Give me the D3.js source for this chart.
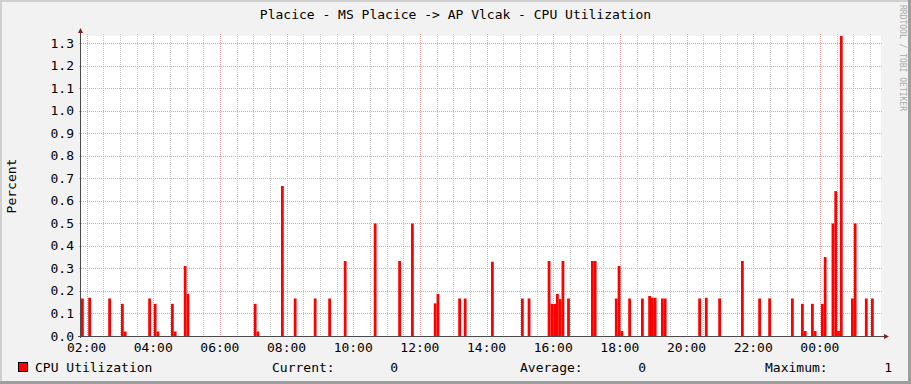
<!DOCTYPE html>
<html>
<head>
<meta charset="utf-8">
<script src="https://cdn.jsdelivr.net/npm/d3@7"></script>
<style>
  body { margin: 0; background: #f2f2f2; }
  text { font-family: "DejaVu Sans Mono", monospace; }
</style>
</head>
<body>
<div id="chart"></div>
<script>
// sample start times (HH:MM, after 01:50 wraps to next day) and CPU values
const sampleTimes = [
  "01:50", "02:03", "02:39", "03:02", "03:07", "03:51", "04:01", "04:06", "04:32", "04:37",
  "04:55", "05:00", "07:01", "07:06", "07:50", "08:13", "08:49", "09:15", "09:43", "10:37",
  "11:21", "11:44", "12:25", "12:30", "13:09", "13:19", "14:08", "15:02", "15:14", "15:50",
  "15:55", "16:00", "16:05", "16:10", "16:15", "16:25", "17:08", "17:13", "17:51", "17:56",
  "18:01", "18:15", "18:38", "18:51", "18:56", "19:01", "19:14", "19:19", "20:21", "20:33",
  "20:57", "21:38", "22:09", "22:27", "23:08", "23:26", "23:31", "23:44", "23:49", "00:02",
  "00:07", "00:21", "00:26", "00:31", "00:36", "00:56", "01:01", "01:21", "01:32"
];
const sampleValues = [
  0.1667, 0.17, 0.1667, 0.1429, 0.02, 0.1667, 0.1429, 0.02, 0.1429, 0.02,
  0.311, 0.187, 0.1429, 0.02, 0.6667, 0.1667, 0.1667, 0.1667, 0.3333, 0.5,
  0.3333, 0.5, 0.145, 0.187, 0.1667, 0.1667, 0.33, 0.1667, 0.1667, 0.3333,
  0.1429, 0.1429, 0.187, 0.164, 0.3333, 0.1667, 0.3333, 0.3333, 0.1667, 0.311,
  0.022, 0.1667, 0.1667, 0.178, 0.17, 0.17, 0.1667, 0.1667, 0.1667, 0.17,
  0.1667, 0.3333, 0.1667, 0.1667, 0.1667, 0.1429, 0.022, 0.1429, 0.022, 0.1429,
  0.351, 0.5, 0.644, 0.022, 1.3333, 0.1667, 0.5, 0.1667, 0.1667
];
const yTicks = [0, 0.1, 0.2, 0.3, 0.4, 0.5, 0.6, 0.7, 0.8, 0.9, 1.0, 1.1, 1.2, 1.3];
const legendItems = [
  { label: "Current:", value: "0" },
  { label: "Average:", value: "0" },
  { label: "Maximum:", value: "1" }
];

const W = 911, H = 384;
const pLeft = 81, pTop = 36, plotW = 800, plotH = 300;
const stepMin = 5;

const start = new Date(2000, 0, 1, 1, 50), end = new Date(2000, 0, 2, 1, 50);
const toDate = s => {
  const [h, m] = s.split(":").map(Number);
  const d = new Date(2000, 0, 1, h, m);
  if (d < start) d.setDate(2);
  return d;
};
const data = sampleTimes.map((t, i) => ({ t: toDate(t), v: sampleValues[i] }));

const x = d3.scaleTime().domain([start, end]).range([pLeft, pLeft + plotW]);
const y = d3.scaleLinear().domain([0, 1.3333]).range([pTop + plotH, pTop]);

const svg = d3.select("#chart").append("svg")
  .attr("width", W).attr("height", H);

// background + 3d frame
svg.append("rect").attr("width", W).attr("height", H).attr("fill", "#f2f2f2");
svg.append("rect").attr("x", 0).attr("y", 0).attr("width", W).attr("height", 2).attr("fill", "#cfcfcf");
svg.append("rect").attr("x", 0).attr("y", 0).attr("width", 2).attr("height", H).attr("fill", "#cfcfcf");
svg.append("rect").attr("x", W - 3).attr("y", 0).attr("width", 3).attr("height", H).attr("fill", "#9e9e9e");
svg.append("rect").attr("x", 0).attr("y", H - 3).attr("width", W).attr("height", 3).attr("fill", "#9e9e9e");

// canvas
svg.append("rect").attr("x", pLeft).attr("y", pTop).attr("width", plotW).attr("height", plotH).attr("fill", "#fff");

// minor vertical grid
const minor = d3.timeMinute.every(30).range(start, end).filter(d => d.getHours() % 2 || d.getMinutes());
svg.append("g").selectAll("line").data(minor).enter().append("line")
  .attr("x1", d => Math.round(x(d)) + 0.5).attr("x2", d => Math.round(x(d)) + 0.5)
  .attr("y1", pTop - 2).attr("y2", pTop + plotH)
  .attr("stroke", "#c4c4c4").attr("stroke-dasharray", "1,1");

// major vertical grid
const major = d3.timeHour.every(2).range(start, end);
svg.append("g").selectAll("line").data(major).enter().append("line")
  .attr("x1", d => Math.round(x(d)) + 0.5).attr("x2", d => Math.round(x(d)) + 0.5)
  .attr("y1", pTop - 2).attr("y2", pTop + plotH)
  .attr("stroke", "#eea0a0").attr("stroke-dasharray", "1,1");

// horizontal grid
svg.append("g").selectAll("line").data(yTicks.slice(1)).enter().append("line")
  .attr("x1", pLeft - 2).attr("x2", pLeft + plotW + 2)
  .attr("y1", d => Math.round(y(d)) + 0.5).attr("y2", d => Math.round(y(d)) + 0.5)
  .attr("stroke", "#eea0a0").attr("stroke-dasharray", "1,1");

// bars
svg.append("g").selectAll("rect").data(data).enter().append("rect")
  .attr("x", d => x(d.t))
  .attr("width", d => x(d3.timeMinute.offset(d.t, stepMin)) - x(d.t))
  .attr("y", d => y(d.v))
  .attr("height", d => y(0) - y(d.v))
  .attr("fill", "#ff0000");

// axes
svg.append("line").attr("x1", pLeft - 0.5).attr("x2", pLeft - 0.5).attr("y1", pTop + plotH + 2).attr("y2", pTop - 4)
  .attr("stroke", "#4a4a4a");
svg.append("line").attr("x1", pLeft - 3).attr("x2", pLeft + plotW + 4).attr("y1", pTop + plotH + 0.5).attr("y2", pTop + plotH + 0.5)
  .attr("stroke", "#4a4a4a");
svg.append("path").attr("d", `M${pLeft - 3},${pTop - 3} L${pLeft + 2},${pTop - 3} L${pLeft - 0.5},${pTop - 8} Z`).attr("fill", "#801f1f");
svg.append("path").attr("d", `M${pLeft + plotW + 3},${pTop + plotH - 2} L${pLeft + plotW + 3},${pTop + plotH + 3} L${pLeft + plotW + 8},${pTop + plotH + 0.5} Z`).attr("fill", "#801f1f");

// y labels
svg.append("g").selectAll("text").data(yTicks).enter().append("text")
  .attr("x", 74).attr("y", d => y(d) + 4.5)
  .attr("text-anchor", "end").attr("font-size", 13).text(d3.format(".1f"));

// x labels
svg.append("g").selectAll("text").data(major).enter().append("text")
  .attr("x", d => x(d)).attr("y", 352)
  .attr("text-anchor", "middle").attr("font-size", 13).text(d3.timeFormat("%H:%M"));

// title
svg.append("text").attr("x", W / 2).attr("y", 19).attr("text-anchor", "middle").attr("font-size", 13)
  .text("Placice - MS Placice -> AP Vlcak - CPU Utilization");

// y axis title
svg.append("text").attr("transform", "translate(16,186) rotate(-90)").attr("text-anchor", "middle")
  .attr("font-size", 13).text("Percent");

// watermark
svg.append("text").attr("transform", "translate(900,5) rotate(90)").attr("font-size", 8)
  .attr("fill", "#aaaaaa").text("RRDTOOL / TOBI OETIKER");

// legend
svg.append("rect").attr("x", 18.5).attr("y", 362.5).attr("width", 9).attr("height", 9)
  .attr("fill", "#ff0000").attr("stroke", "#000");
svg.append("text").attr("x", 35).attr("y", 372).attr("font-size", 13).text("CPU Utilization");
const lx = [272, 520, 765], vx = [398, 646, 892];
legendItems.forEach((d, i) => {
  svg.append("text").attr("x", lx[i]).attr("y", 372).attr("font-size", 13).text(d.label);
  svg.append("text").attr("x", vx[i]).attr("y", 372).attr("font-size", 13).attr("text-anchor", "end").text(d.value);
});
</script>
</body>
</html>
